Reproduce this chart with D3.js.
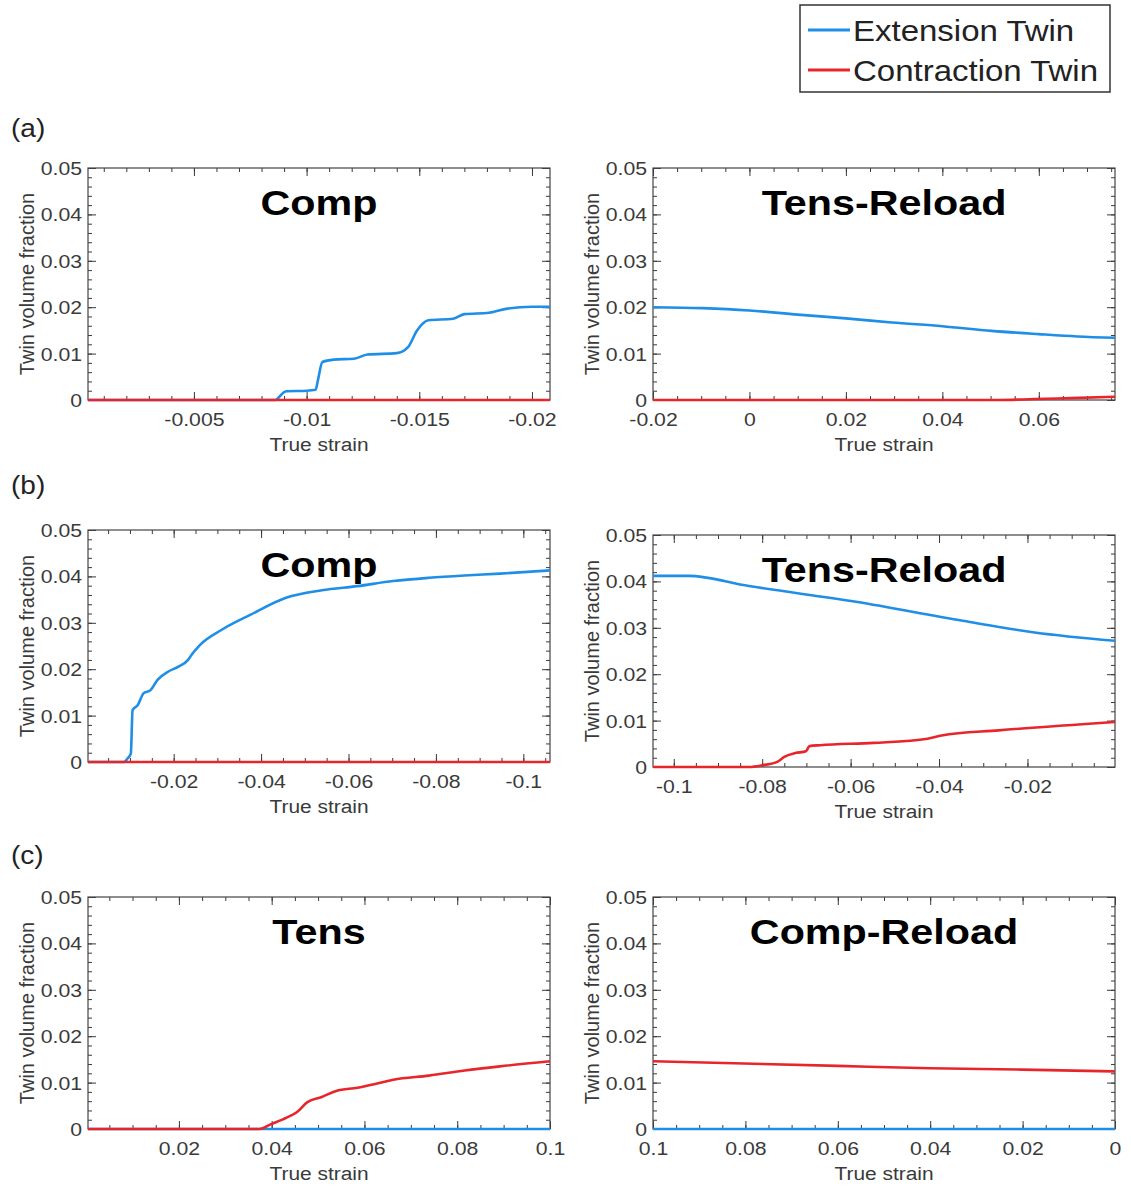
<!DOCTYPE html>
<html>
<head>
<meta charset="utf-8">
<style>
    body { margin: 0; background: white; }
    text { font-family: "Liberation Sans", Arial, sans-serif; }
</style>
</head>
<body>
<svg id="chart" width="1131" height="1187"></svg>
<script src="https://cdn.jsdelivr.net/npm/d3@7/dist/d3.min.js"></script>
<script>
// ---- data: [true strain, twin volume fraction] ----
const aCompExt = [[-0.0003, 0], [-0.0086, 0], [-0.0090, 0.0017], [-0.0091, 0.0019], [-0.0100, 0.0020],
    [-0.0104, 0.0022], [-0.0105, 0.0042], [-0.0107, 0.0082], [-0.0112, 0.0087], [-0.0121, 0.0089],
    [-0.0127, 0.0098], [-0.0140, 0.0101], [-0.0145, 0.0114], [-0.0149, 0.0150], [-0.0154, 0.0172],
    [-0.0165, 0.0175], [-0.0170, 0.0185], [-0.0181, 0.0188], [-0.0189, 0.0197], [-0.0200, 0.0201],
    [-0.0208, 0.0201]]
const aCompCon = [[-0.0003, 0], [-0.0208, 0]]

const aTensExt = [[-0.02, 0.0200], [-0.0098, 0.0198], [0, 0.0193], [0.01, 0.0184], [0.02, 0.0176],
    [0.0295, 0.0167], [0.04, 0.0159], [0.0502, 0.0149], [0.06, 0.0142], [0.068, 0.0137], [0.0758, 0.0134]]
const aTensCon = [[-0.02, 0], [0.0517, 0], [0.0591, 0.0002], [0.0665, 0.0004], [0.0758, 0.0007]]

const bCompExt = [[-0.0004, 0], [-0.0086, 0], [-0.0094, 0.0007], [-0.0102, 0.0018], [-0.0106, 0.0112],
    [-0.0118, 0.0123], [-0.0131, 0.0148], [-0.0147, 0.0155], [-0.0163, 0.0177], [-0.0188, 0.0195],
    [-0.0212, 0.0206], [-0.0233, 0.0220], [-0.0241, 0.0231], [-0.0261, 0.0253], [-0.0310, 0.0285],
    [-0.0375, 0.0317], [-0.0457, 0.0354], [-0.0539, 0.0370], [-0.0620, 0.0379], [-0.0702, 0.0390],
    [-0.0784, 0.0397], [-0.0865, 0.0402], [-0.0947, 0.0406], [-0.1061, 0.0413]]
const bCompCon = [[-0.0004, 0], [-0.1061, 0]]

const bTensExt = [[-0.1047, 0.0412], [-0.0968, 0.0412], [-0.0830, 0.0390], [-0.0588, 0.0356],
    [-0.0346, 0.0315], [-0.0184, 0.0290], [-0.0002, 0.0272]]
const bTensCon = [[-0.1047, 0], [-0.0830, 0], [-0.0798, 0.0004], [-0.0766, 0.0011], [-0.0750, 0.0022],
    [-0.0725, 0.0030], [-0.0701, 0.0034], [-0.0693, 0.0045], [-0.0669, 0.0047], [-0.0548, 0.0052],
    [-0.0426, 0.0061], [-0.0394, 0.0068], [-0.0265, 0.0079], [-0.0002, 0.0097]]

const cTensExt = [[0.0004, 0], [0.1, 0]]
const cTensCon = [[0.0004, 0], [0.0373, 0], [0.0400, 0.0011], [0.0431, 0.0024], [0.0454, 0.0036],
    [0.0477, 0.0058], [0.0508, 0.0069], [0.0539, 0.0082], [0.0585, 0.0089], [0.0623, 0.0097],
    [0.0662, 0.0106], [0.0739, 0.0115], [0.0816, 0.0126], [0.0892, 0.0135], [0.1000, 0.0146]]

const cCompExt = [[0.1, 0], [0, 0]]
const cCompCon = [[0.1, 0.0146], [0.06, 0.0136], [0.04, 0.0131], [0.02, 0.0128], [0, 0.0124]]

// axis limits and tick labels
const aCompDomain = [-0.0003, -0.0208]
const aTensDomain = [-0.02, 0.0758]
const bCompDomain = [-0.0004, -0.1061]
const bTensDomain = [-0.1047, -0.0002]
const cTensDomain = [0.0004, 0.1]
const cCompDomain = [0.1, 0]
const aCompTicks = [-0.005, -0.01, -0.015, -0.02]
const aTensTicks = [-0.02, 0, 0.02, 0.04, 0.06]
const bCompTicks = [-0.02, -0.04, -0.06, -0.08, -0.1]
const bTensTicks = [-0.1, -0.08, -0.06, -0.04, -0.02]
const cTensTicks = [0.02, 0.04, 0.06, 0.08, 0.1]
const cCompTicks = [0.1, 0.08, 0.06, 0.04, 0.02, 0]
const yTicks = [0, 0.01, 0.02, 0.03, 0.04, 0.05]

const seriesNames = ["Extension Twin", "Contraction Twin"]
const panelLetters = ["(a)", "(b)", "(c)"]

const blue = "#1f8ee6"
const red = "#e8252b"
const W = 462, H = 232

let svg = d3.select("#chart")

let panels = [
    {title: "Comp", left: 88, top: 168, domain: aCompDomain, ticks: aCompTicks, minor: 0.001, ext: aCompExt, con: aCompCon},
    {title: "Tens-Reload", left: 653, top: 168, domain: aTensDomain, ticks: aTensTicks, minor: 0.005, ext: aTensExt, con: aTensCon},
    {title: "Comp", left: 88, top: 530, domain: bCompDomain, ticks: bCompTicks, minor: 0.005, ext: bCompExt, con: bCompCon},
    {title: "Tens-Reload", left: 653, top: 535, domain: bTensDomain, ticks: bTensTicks, minor: 0.005, ext: bTensExt, con: bTensCon},
    {title: "Tens", left: 88, top: 897, domain: cTensDomain, ticks: cTensTicks, minor: 0.005, ext: cTensExt, con: cTensCon},
    {title: "Comp-Reload", left: 653, top: 897, domain: cCompDomain, ticks: cCompTicks, minor: 0.005, ext: cCompExt, con: cCompCon}
]

function minorTicks(domain, step) {
    let lo = Math.min(...domain), hi = Math.max(...domain)
    return d3.range(Math.ceil(lo / step - 1e-9), Math.floor(hi / step + 1e-9) + 1).map(i => +(i * step).toFixed(6))
}

function cleanAxis(g) {
    g.select(".domain").remove()
    g.selectAll("line").attr("stroke", "#3a3a3a")
}

panels.forEach((p, i) => {
    let g = svg.append("g").attr("transform", `translate(${p.left},${p.top})`)
    let x = d3.scaleLinear().domain(p.domain).range([0, W])
    let y = d3.scaleLinear().domain([0, 0.05]).range([H, 0])

    let clipId = "clip" + i
    g.append("clipPath").attr("id", clipId)
        .append("rect").attr("x", 0).attr("y", -4).attr("width", W).attr("height", H + 8)

    // ticks (inside, on all four sides)
    let xMinor = minorTicks(p.domain, p.minor)
    let yMinor = minorTicks([0, 0.05], 0.002)

    g.append("g").attr("transform", `translate(0,${H})`)
        .call(d3.axisBottom(x).tickValues(xMinor).tickSize(-4).tickFormat(""))
        .call(cleanAxis)
    g.append("g").call(d3.axisTop(x).tickValues(xMinor).tickSize(-4).tickFormat("")).call(cleanAxis)
    g.append("g").call(d3.axisTop(x).tickValues(p.ticks).tickSize(-8).tickFormat("")).call(cleanAxis)
    g.append("g").call(d3.axisLeft(y).tickValues(yMinor).tickSize(-4).tickFormat("")).call(cleanAxis)
    g.append("g").attr("transform", `translate(${W},0)`)
        .call(d3.axisRight(y).tickValues(yMinor).tickSize(-4).tickFormat("")).call(cleanAxis)
    g.append("g").attr("transform", `translate(${W},0)`)
        .call(d3.axisRight(y).tickValues(yTicks).tickSize(-8).tickFormat("")).call(cleanAxis)

    let xAxis = g.append("g").attr("transform", `translate(0,${H})`)
        .call(d3.axisBottom(x).tickValues(p.ticks).tickSize(-8).tickFormat(d => String(d)))
        .call(cleanAxis)
    xAxis.selectAll("text")
        .attr("y", 26).attr("dy", 0)
        .attr("font-size", 18).attr("fill", "#3a3a3a")
        .attr("transform", "scale(1.18,1)")

    let yAxis = g.append("g")
        .call(d3.axisLeft(y).tickValues(yTicks).tickSize(-8).tickFormat(d => String(d)))
        .call(cleanAxis)
    yAxis.selectAll("text")
        .attr("x", -5).attr("dy", "0.36em")
        .attr("font-size", 18).attr("fill", "#3a3a3a")
        .attr("transform", "scale(1.18,1)")

    g.append("rect").attr("width", W).attr("height", H)
        .attr("fill", "none").attr("stroke", "#444").attr("stroke-width", 1.2)

    // curves: extension first, contraction on top, both above the box
    let line = d3.line().x(d => x(d[0])).y(d => y(d[1])).curve(d3.curveMonotoneX)
    let curves = g.append("g").attr("clip-path", `url(#${clipId})`)
    curves.append("path").datum(p.ext)
        .attr("d", line).attr("fill", "none").attr("stroke", blue).attr("stroke-width", 2.6)
        .attr("stroke-linejoin", "round")
    curves.append("path").datum(p.con)
        .attr("d", line).attr("fill", "none").attr("stroke", red).attr("stroke-width", 2.6)
        .attr("stroke-linejoin", "round")

    g.append("g").attr("transform", `translate(${W / 2},47)`)
        .append("text").attr("text-anchor", "middle")
        .attr("font-size", 35).attr("font-weight", "bold").attr("fill", "#000")
        .attr("transform", "scale(1.18,1)")
        .text(p.title)

    g.append("g").attr("transform", `translate(${W / 2},${H + 51})`)
        .append("text").attr("text-anchor", "middle")
        .attr("font-size", 19).attr("fill", "#3a3a3a")
        .attr("transform", "scale(1.1,1)")
        .text("True strain")

    g.append("text")
        .attr("transform", `translate(-54,${H / 2}) rotate(-90)`)
        .attr("text-anchor", "middle")
        .attr("font-size", 20).attr("fill", "#3a3a3a")
        .text("Twin volume fraction")
})

// panel letters
let letterY = [137, 494, 864]
panelLetters.forEach((t, i) => {
    svg.append("g").attr("transform", `translate(11,${letterY[i]})`)
        .append("text").attr("font-size", 25).attr("fill", "#222")
        .attr("transform", "scale(1.12,1)")
        .text(t)
})

// legend
let legend = svg.append("g").attr("transform", "translate(800,5)")
legend.append("rect").attr("width", 310).attr("height", 87)
    .attr("fill", "white").attr("stroke", "#333").attr("stroke-width", 1.5)
seriesNames.forEach((name, i) => {
    let cy = 25 + i * 40
    legend.append("line").attr("x1", 8).attr("x2", 50).attr("y1", cy).attr("y2", cy)
        .attr("stroke", i === 0 ? blue : red).attr("stroke-width", 3)
    legend.append("g").attr("transform", `translate(53,${cy + 11})`)
        .append("text").attr("font-size", 30).attr("fill", "#222")
        .attr("transform", "scale(1.1,1)")
        .text(name)
})
</script>
</body>
</html>
